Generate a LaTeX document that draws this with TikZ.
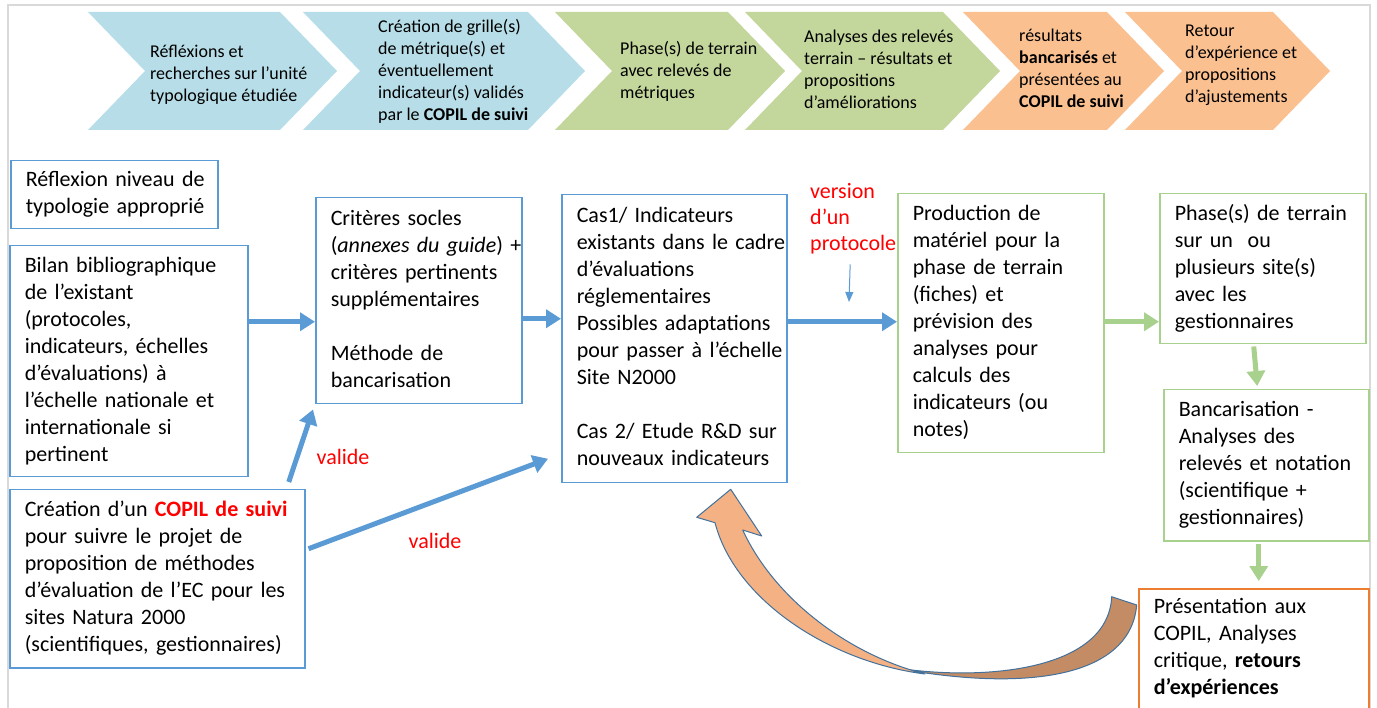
\documentclass[tikz,border=0pt]{standalone}
\usepackage{fontspec}
\setmainfont{Carlito}
\usetikzlibrary{arrows.meta,calc}
\definecolor{chblue}{HTML}{B7DEE8}
\definecolor{chgreen}{HTML}{C3D69B}
\definecolor{chorange}{HTML}{FAC090}
\definecolor{bxblue}{HTML}{5B9BD5}
\definecolor{bxgreen}{HTML}{A9D18E}
\definecolor{bxorange}{HTML}{ED7D31}
\definecolor{crvorange}{HTML}{F4B183}
\definecolor{crvbrown}{HTML}{C48C64}
\definecolor{crvline}{HTML}{41719C}
\definecolor{framegray}{HTML}{D9D9D9}
\definecolor{lbred}{HTML}{FF0000}
\newcommand\tlines[1]{\begin{tabular}{@{}l@{}}#1\end{tabular}}
\tikzset{
  box/.style={draw, line width=1.5pt, inner xsep=15pt, inner ysep=0pt,
    font=\fontsize{22}{27}\selectfont, align=left, anchor=north west},
  bbox/.style={box, draw=bxblue},
  gbox/.style={box, draw=bxgreen},
  obox/.style={box, draw=bxorange},
  chtext/.style={inner sep=0pt, anchor=west, align=left, font=\fontsize{18}{22}\selectfont},
  redlab/.style={inner sep=0pt, text=lbred, font=\fontsize{22}{26}\selectfont, align=left},
  barrow/.style={draw=bxblue, line width=5pt, -{Triangle[length=15pt,width=18pt]}},
  garrow/.style={draw=bxgreen, line width=5pt, -{Triangle[length=15pt,width=18pt]}},
  thinarrow/.style={draw=bxblue, line width=1pt, -{Triangle[length=10pt,width=8pt]}},
  curvepart/.style={draw=crvline, line width=1pt, line join=round},
}
\newcommand\chevron[3]{% color, left, right
  \fill[#1] (#2,12) -- (#3,12) -- ({#3+57},71) -- (#3,130) -- (#2,130) -- ({#2+57},71) -- cycle;}
\begin{document}
\begin{tikzpicture}[x=1pt,y=-1pt]
\useasboundingbox (0,0) rectangle (1377,708);
\clip (0,0) rectangle (1377,708);
\fill[white] (0,0) rectangle (1377,708);
\draw[framegray, line width=1.5pt] (8,5) rectangle (1370,730);

% chevrons
\chevron{chblue}{88}{280}
\chevron{chblue}{303}{528}
\chevron{chgreen}{555}{728}
\chevron{chgreen}{745}{943}
\chevron{chorange}{963}{1107}
\chevron{chorange}{1125}{1273}

\node[chtext] (c1) at (150,75) {\tlines{Réfléxions et\\recherches sur l’unité\\typologique étudiée}};
\node[chtext] (c2) at (378,72) {\tlines{Création de grille(s)\\de métrique(s) et\\éventuellement\\indicateur(s) validés\\par le \textbf{COPIL de suivi}}};
\node[chtext] (c3) at (620,72) {\tlines{Phase(s) de terrain\\avec relevés de\\métriques}};
\node[chtext] (c4) at (804,71) {\tlines{Analyses des relevés\\terrain – résultats et\\propositions\\d’améliorations}};
\node[chtext] (c5) at (1019,70) {\tlines{résultats\\\textbf{bancarisés} et\\présentées au\\\textbf{COPIL de suivi}}};
\node[chtext] (c6) at (1185,65) {\tlines{Retour\\d’expérience et\\propositions\\d’ajustements}};

% boxes
\node[bbox, text width=177pt, minimum height=68pt] (B1) at (10,160)
  {\tlines{Réflexion niveau de\\typologie approprié}};
\node[bbox, text width=208pt, minimum height=231pt] (B2) at (9,245)
  {\tlines{Bilan bibliographique\\de l’existant\\(protocoles,\\indicateurs, échelles\\d’évaluations) à\\l’échelle nationale et\\internationale si\\pertinent}};
\node[bbox, text width=265pt, minimum height=178pt] (B3) at (9,489)
  {\tlines{Création d’un \textcolor{lbred}{\textbf{COPIL de suivi}}\\pour suivre le projet de\\proposition de méthodes\\d’évaluation de l’EC pour les\\sites Natura 2000\\(scientifiques, gestionnaires)}};
\node[bbox, text width=176pt, minimum height=206pt] (B4) at (315,197)
  {\tlines{Critères socles\\(\textit{annexes du guide}) +\\critères pertinents\\supplémentaires\\ \\Méthode de\\bancarisation}};
\node[bbox, text width=195pt, minimum height=288pt] (B5) at (561,194)
  {\tlines{Cas1/ Indicateurs\\existants dans le cadre\\d’évaluations\\réglementaires\\Possibles adaptations\\pour passer à l’échelle\\Site N2000\\ \\Cas 2/ Etude R\&D sur\\nouveaux indicateurs}};
\node[gbox, text width=176pt, minimum height=259pt] (B6) at (897,193)
  {\tlines{Production de\\matériel pour la\\phase de terrain\\(fiches) et\\prévision des\\analyses pour\\calculs des\\indicateurs (ou\\notes)}};
\node[gbox, text width=176pt, minimum height=150pt] (B7) at (1159,193)
  {\tlines{Phase(s) de terrain\\sur un~~ou\\plusieurs site(s)\\avec les\\gestionnaires}};
\node[gbox, text width=175pt, minimum height=151pt] (B8) at (1163,389)
  {\tlines{Bancarisation -\\Analyses des\\relevés et notation\\(scientifique +\\gestionnaires)}};
\node[obox, text width=200pt, minimum height=146pt] (B9) at (1138,588)
  {\tlines{Présentation aux\\COPIL, Analyses\\critique, \textbf{retours}\\\textbf{d’expériences}\\\mbox{}}};

% labels
\node[redlab, anchor=north west] (ver) at (810,180) {\tlines{version\\d’un\\protocole}};
\node[redlab] (val1) at (343,457) {valide};
\node[redlab] (val2) at (435,541) {valide};
\coordinate (verend) at (849,302);

% connectors
\draw[barrow] ([yshift=39.5pt]B2.east) -- ([yshift=-21pt]B4.west);
\draw[barrow] ([yshift=-18pt]B4.east) -- ([yshift=20pt]B5.west);
\draw[barrow] ([yshift=17pt]B5.east) -- ([yshift=1.5pt]B6.west);
\draw[barrow] ([xshift=131.5pt,yshift=7pt]B3.north) -- ([xshift=-2pt,yshift=-5pt]B4.south west);
\draw[barrow] ([xshift=3pt,yshift=30pt]B3.east) -- ([xshift=-13pt,yshift=-120pt]B5.west);
\draw[thinarrow] ([xshift=-3pt,yshift=-6pt]ver.south) -- (verend);
\draw[garrow] ([yshift=1.5pt]B6.east) -- ([yshift=-53pt]B7.west);
\draw[garrow] ([xshift=-9pt,yshift=-2pt]B7.south) -- ([xshift=-9pt,yshift=3pt]B8.north);
\draw[garrow] ([xshift=-7.5pt,yshift=-2pt]B8.south) -- ([xshift=5pt,yshift=7pt]B9.north);

% curved feedback arrow
\filldraw[curvepart, fill=crvbrown] (890,667) .. controls (980,682) and (1108,672) .. (1111.7,596.7)
  -- (1136.7,605) .. controls (1130,680) and (1020,692) .. cycle;
\filldraw[curvepart, fill=crvorange] (715,522.7) .. controls (735,600) and (830,662) .. (925,674)
  .. controls (850,655) and (775,600) .. (742.7,530) -- (761.7,536) -- (730.7,489.3) -- (696.7,517.3) -- cycle;
\end{tikzpicture}
\end{document}
